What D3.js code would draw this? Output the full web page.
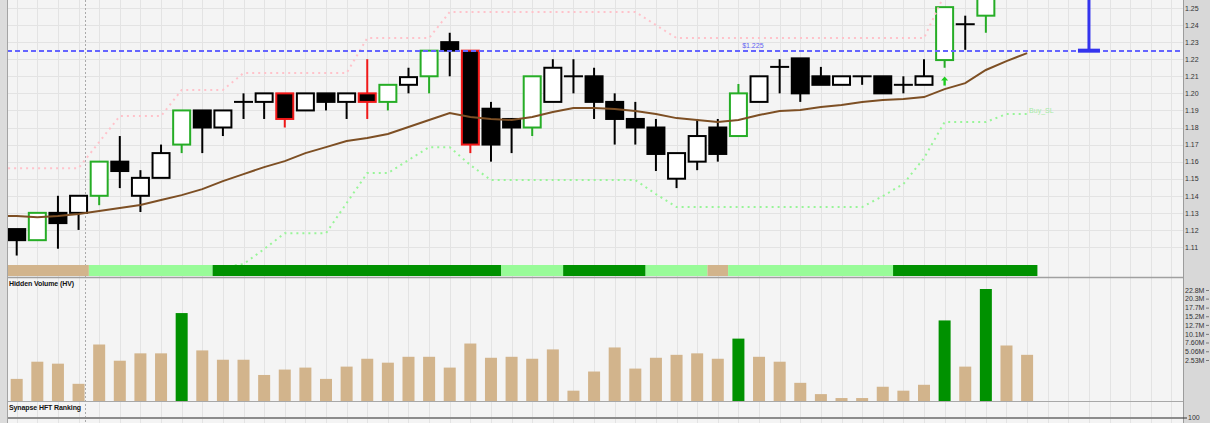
<!DOCTYPE html>
<meta charset="utf-8">
<script src="https://d3js.org/d3.v7.min.js"></script>
<style>
  body { margin: 0; background: #f4f4f4; overflow: hidden; }
  text { font-family: "Liberation Sans", Arial, sans-serif; }
</style>
<div id="chart"></div>
<script>
// ---- data (one entry per bar, bar 0 = left-most candle) ----
var opens  = [1.1205,1.114,1.130,1.130,1.140,1.160,1.140,1.1505,1.170,1.190,
              1.180,1.195,1.195,1.200,1.190,1.200,1.195,1.200,1.195,1.205,
              1.210,1.230,1.225,1.191,1.185,1.180,1.195,1.210,1.210,1.195,
              1.185,1.180,1.150,1.160,1.180,1.175,1.195,1.2155,1.2205,1.210,
              1.205,1.210,1.210,1.205,1.205,1.2195,1.2405,1.2455,1.262,1.268];
var highs  = [1.1205,1.130,1.140,1.140,1.160,1.175,1.155,1.170,1.190,1.190,
              1.190,1.200,1.200,1.200,1.200,1.200,1.200,1.220,1.205,1.215,
              1.225,1.2355,1.225,1.195,1.185,1.210,1.220,1.220,1.215,1.200,
              1.195,1.185,1.165,1.185,1.185,1.2055,1.210,1.220,1.2205,1.2155,
              1.210,1.210,1.210,1.210,1.220,1.2505,1.2455,1.262,1.275,1.280];
var lows   = [1.105,1.114,1.109,1.120,1.1345,1.1445,1.1305,1.1505,1.165,1.165,
              1.175,1.185,1.185,1.180,1.190,1.190,1.185,1.185,1.190,1.200,
              1.200,1.210,1.165,1.160,1.165,1.175,1.195,1.200,1.185,1.170,
              1.170,1.1545,1.1445,1.155,1.160,1.175,1.195,1.200,1.195,1.205,
              1.205,1.205,1.200,1.200,1.205,1.215,1.2255,1.2355,1.258,1.262];
var closes = [1.114,1.130,1.124,1.140,1.160,1.1545,1.1505,1.165,1.190,1.180,
              1.190,1.195,1.200,1.185,1.200,1.195,1.200,1.195,1.205,1.2095,
              1.225,1.225,1.170,1.170,1.180,1.210,1.215,1.210,1.195,1.185,
              1.180,1.1645,1.165,1.175,1.1645,1.200,1.210,1.2155,1.200,1.205,
              1.210,1.210,1.200,1.205,1.210,1.2505,1.2405,1.260,1.270,1.275];
// candle outline highlight: "g" green, "r" red, "" plain
var candleMark = ["","g","","","g","","","","g","",
                  "","","","r","","","","r","g","",
                  "g","","r","","","g","","","","",
                  "","","","","","g","","","","",
                  "","","","","","g","","g","",""];

// line studies start one bar before bar 0 (index -1)
var maLine   = [1.1281,1.1281,1.1275,1.1281,1.1293,1.1311,1.1328,1.1346,1.1375,1.1404,
                1.1439,1.1486,1.1527,1.1568,1.1603,1.1650,1.1685,1.1721,1.1738,1.1762,
                1.1803,1.1844,1.1885,1.1861,1.1850,1.1844,1.1861,1.1891,1.1914,1.1914,
                1.1908,1.1896,1.1879,1.1855,1.1844,1.1832,1.1844,1.1873,1.1896,1.1902,
                1.1920,1.1932,1.1949,1.1961,1.1967,1.1978,1.2025,1.2060,1.2137,1.2189,1.2236];
var sellStop = [1.1562,1.1562,1.1562,1.1562,1.1562,1.1715,1.1867,1.1867,1.1867,1.2020,
                1.2020,1.2020,1.2119,1.2119,1.2119,1.2119,1.2119,1.2119,1.2324,1.2324,
                1.2324,1.2324,1.2477,1.2477,1.2477,1.2477,1.2477,1.2477,1.2477,1.2477,
                1.2477,1.2477,1.2400,1.2324,1.2324,1.2324,1.2324,1.2324,1.2324,1.2324,
                1.2324,1.2324,1.2324,1.2324,1.2324,1.2324,1.2580,1.2580,1.2580,1.2580,1.2580];
// buy stop starts at bar 10
var buyStopStart = 10;
var buyStop  = [1.0982,1.1000,1.1088,1.1181,1.1181,1.1181,1.1357,1.1533,1.1533,1.1609,
                1.1685,1.1685,1.1580,1.1492,1.1492,1.1492,1.1492,1.1492,1.1492,1.1492,
                1.1492,1.1410,1.1334,1.1334,1.1334,1.1334,1.1334,1.1334,1.1334,1.1334,
                1.1334,1.1334,1.1398,1.1469,1.1621,1.1832,1.1832,1.1832,1.1879,1.1879];

// volume, millions
var volumes = [4.5,8.0,7.6,3.5,11.5,8.2,9.7,9.7,17.9,10.3,
               8.4,8.4,5.3,6.4,6.8,4.5,7.0,8.6,7.8,9.0,
               9.0,6.8,11.7,8.8,9.0,8.6,10.5,2.1,6.0,10.9,
               6.6,8.8,9.4,9.7,8.6,12.7,9.0,8.0,3.7,1.4,
               0.6,0.6,2.9,2.1,3.3,16.4,7.0,22.8,11.3,9.4];
var volumeHot = [8,35,45,47];
// state strip: 0 tan, 1 light green, 2 dark green
var stripState = [0,0,0,0,1,1,1,1,1,1,
                  2,2,2,2,2,2,2,2,2,2,
                  2,2,2,2,1,1,1,2,2,2,
                  2,1,1,1,0,1,1,1,1,1,
                  1,1,1,2,2,2,2,2,2,2];

var priceTicks = [1.11,1.12,1.13,1.14,1.15,1.16,1.17,1.18,1.19,1.20,1.21,1.22,1.23,1.24,1.25];
var volTicks = [2.53,5.06,7.60,10.1,12.7,15.2,17.7,20.3,22.8];
var alertPrice = 1.225, alertBar = 52, alertLabelBar = 35.7;
var arrowBar = 45, arrowPrice = 1.2072;
var sessionBreak = 3.33;

// ---- layout ----
var W = 1210, H = 423;
var plotL = 7, plotR = 1183;
var stripTop = 265, stripBot = 276;

var svg = d3.select("#chart").append("svg")
  .attr("width", W).attr("height", H)
  .style("display", "block");

var x = d3.scaleLinear().domain([0, 49]).range([16.7, 1027.1]);
var y = d3.scaleLinear().domain([1.11, 1.25]).range([247, 8]);
var vy = d3.scaleLinear().domain([0, 22.8]).range([401, 289]);
// the volume labels sit on their own compressed scale
var vLab = d3.scaleLinear().domain([0, 22.8]).range([368.75, 290]);

svg.append("rect").attr("width", W).attr("height", H).attr("fill", "#f4f4f4");

svg.append("clipPath").attr("id", "priceClip")
  .append("rect").attr("x", plotL).attr("y", 0).attr("width", plotR - plotL).attr("height", stripTop);

// vertical grid, every bar
var gridBars = d3.range(0, 57).filter(function(i){ return x(i) < plotR; });
svg.append("g").selectAll("line").data(gridBars).enter().append("line")
  .attr("x1", function(d){ return Math.round(x(d)) + 0.5; })
  .attr("x2", function(d){ return Math.round(x(d)) + 0.5; })
  .attr("y1", 0).attr("y2", H)
  .attr("stroke", "#e3e3e3");

// horizontal price grid
svg.append("g").selectAll("line").data(priceTicks).enter().append("line")
  .attr("x1", plotL).attr("x2", plotR)
  .attr("y1", function(d){ return Math.round(y(d)) + 0.5; })
  .attr("y2", function(d){ return Math.round(y(d)) + 0.5; })
  .attr("stroke", "#e3e3e3");

// session break
svg.append("line")
  .attr("x1", Math.round(x(sessionBreak)) + 0.5).attr("x2", Math.round(x(sessionBreak)) + 0.5)
  .attr("y1", 0).attr("y2", H)
  .attr("stroke", "#aaa").attr("stroke-dasharray", "2,2");

// state strip (merge runs)
var stripColors = ["#d2b48c", "#98fb98", "#009100"];
var runs = [];
stripState.forEach(function(s, i){
  if (runs.length && runs[runs.length-1].s === s) runs[runs.length-1].e = i;
  else runs.push({s: s, b: i, e: i});
});
svg.append("g").selectAll("rect").data(runs).enter().append("rect")
  .attr("x", function(d){ return x(d.b - 0.5); })
  .attr("width", function(d){ return x(d.e + 0.5) - x(d.b - 0.5); })
  .attr("y", stripTop).attr("height", stripBot - stripTop)
  .attr("fill", function(d){ return stripColors[d.s]; });

var price = svg.append("g").attr("clip-path", "url(#priceClip)");

// candles
var bars = d3.range(opens.length).map(function(i){
  return {i: i, o: opens[i], h: highs[i], l: lows[i], c: closes[i], m: candleMark[i]};
});
function edge(d){ return d.m === "g" ? "#26ad26" : d.m === "r" ? "#f01818" : "#000"; }

var candle = price.append("g").selectAll("g").data(bars).enter().append("g");
candle.append("line")
  .attr("x1", function(d){ return x(d.i); }).attr("x2", function(d){ return x(d.i); })
  .attr("y1", function(d){ return y(d.h); }).attr("y2", function(d){ return y(d.l); })
  .attr("stroke", edge).attr("stroke-width", 2);
candle.filter(function(d){ return d.o !== d.c; }).append("rect")
  .attr("x", function(d){ return x(d.i) - 8.5; })
  .attr("width", 17)
  .attr("y", function(d){ return y(Math.max(d.o, d.c)); })
  .attr("height", function(d){ return Math.abs(y(d.o) - y(d.c)); })
  .attr("fill", function(d){ return d.c > d.o ? "#fff" : "#000"; })
  .attr("stroke", edge).attr("stroke-width", 2);
candle.filter(function(d){ return d.o === d.c; }).append("line")
  .attr("x1", function(d){ return x(d.i) - 9.5; }).attr("x2", function(d){ return x(d.i) + 9.5; })
  .attr("y1", function(d){ return y(d.o); }).attr("y2", function(d){ return y(d.o); })
  .attr("stroke", "#000").attr("stroke-width", 2);

// line studies
var lineFrom = function(arr, start){
  return d3.line()
    .x(function(d, k){ return x(start + k); })
    .y(function(d){ return y(d); })(arr);
};
price.append("path").attr("d", lineFrom(sellStop, -1))
  .attr("fill", "none").attr("stroke", "#ffc2ca").attr("stroke-width", 2)
  .attr("stroke-dasharray", "2,4");
price.append("path").attr("d", lineFrom(buyStop, buyStopStart))
  .attr("fill", "none").attr("stroke", "#98f598").attr("stroke-width", 2)
  .attr("stroke-dasharray", "2,4");
price.append("path").attr("d", lineFrom(maLine, -1))
  .attr("fill", "none").attr("stroke", "#7d4f24").attr("stroke-width", 2);

price.append("text")
  .attr("x", x(buyStop.length - 1 + buyStopStart) + 2)
  .attr("y", y(buyStop[buyStop.length - 1]) - 1)
  .attr("font-size", 7).attr("fill", "#a6eaa6").text("Buy_SL");

// alert level
price.append("line")
  .attr("x1", plotL).attr("x2", plotR)
  .attr("y1", Math.round(y(alertPrice))).attr("y2", Math.round(y(alertPrice)))
  .attr("stroke", "#6464ff").attr("stroke-width", 2).attr("stroke-dasharray", "5,3");
price.append("text")
  .attr("x", x(alertLabelBar)).attr("y", y(alertPrice) - 3)
  .attr("text-anchor", "middle").attr("font-size", 7).attr("fill", "#6262f0")
  .text("$" + alertPrice);
price.append("line")
  .attr("x1", x(alertBar)).attr("x2", x(alertBar))
  .attr("y1", 0).attr("y2", y(alertPrice))
  .attr("stroke", "#3434ee").attr("stroke-width", 3);
price.append("rect")
  .attr("x", x(alertBar) - 11).attr("width", 22)
  .attr("y", y(alertPrice) - 2).attr("height", 4)
  .attr("fill", "#3434ee");

// buy arrow
var ax = x(arrowBar), ay = y(arrowPrice);
price.append("path")
  .attr("d", "M" + (ax - 3.5) + "," + (ay - 0.5) + "L" + ax + "," + (ay - 4.5) + "L" + (ax + 3.5) + "," + (ay - 0.5) + "Z")
  .attr("fill", "#1fcc1f");
price.append("rect").attr("x", ax - 1.2).attr("y", ay - 1).attr("width", 2.4).attr("height", 5.5)
  .attr("fill", "#1fcc1f");

// volume bars
svg.append("g").selectAll("rect").data(volumes).enter().append("rect")
  .attr("x", function(d, i){ return x(i) - 6; })
  .attr("width", 12)
  .attr("y", function(d){ return vy(d); })
  .attr("height", function(d){ return vy(0) - vy(d); })
  .attr("fill", function(d, i){ return volumeHot.indexOf(i) >= 0 ? "#009100" : "#d2b48c"; });

// panel separators
svg.append("line").attr("x1", plotL).attr("x2", plotR).attr("y1", 277.5).attr("y2", 277.5)
  .attr("stroke", "#a0a0a0").attr("stroke-width", 1.5);
svg.append("line").attr("x1", plotL).attr("x2", plotR).attr("y1", 401.5).attr("y2", 401.5)
  .attr("stroke", "#a8a8a8");
svg.append("line").attr("x1", plotL).attr("x2", plotR).attr("y1", 418).attr("y2", 418)
  .attr("stroke", "#8c8c8c").attr("stroke-width", 2);

svg.append("text").attr("x", 9).attr("y", 286).attr("font-size", 7).attr("fill", "#111")
  .attr("font-weight", "bold").attr("letter-spacing", "-0.1")
  .text("Hidden Volume (HV)");
svg.append("text").attr("x", 9).attr("y", 410).attr("font-size", 7).attr("fill", "#111")
  .attr("font-weight", "bold").attr("letter-spacing", "-0.1")
  .text("Synapse HFT Ranking");

// side frames
svg.append("rect").attr("x", 0).attr("y", 0).attr("width", plotL).attr("height", H).attr("fill", "#dcdcdc");
svg.append("line").attr("x1", plotL + 0.5).attr("x2", plotL + 0.5).attr("y1", 0).attr("y2", H)
  .attr("stroke", "#a4a4a4");
svg.append("rect").attr("x", plotR).attr("y", 0).attr("width", W - plotR).attr("height", H).attr("fill", "#d8d8d8");
svg.append("line").attr("x1", plotR + 0.5).attr("x2", plotR + 0.5).attr("y1", 0).attr("y2", H)
  .attr("stroke", "#9c9c9c");

// right axes
var pAxis = svg.append("g").attr("transform", "translate(" + plotR + ",0)")
  .call(d3.axisRight(y).tickValues(priceTicks).tickSize(0).tickPadding(2).tickFormat(d3.format(".2f")));
var vAxis = svg.append("g").attr("transform", "translate(" + plotR + ",0)")
  .call(d3.axisRight(vLab).tickValues(volTicks).tickSize(0).tickPadding(2)
    .tickFormat(function(d){ return d3.format(".3r")(d) + "M"; }));
[pAxis, vAxis].forEach(function(g){
  g.select(".domain").remove();
  g.selectAll("text").attr("font-size", 7).attr("fill", "#333")
    .style("font-family", "'Liberation Sans', Arial, sans-serif");
});
vAxis.selectAll(".tick").append("line")
  .attr("x1", 23).attr("x2", 26).attr("stroke", "#777");

var rAxis = svg.append("g").attr("transform", "translate(" + plotR + ",418)");
rAxis.append("line").attr("x1", 0).attr("x2", 4).attr("stroke", "#333");
rAxis.append("text").attr("x", 5).attr("dy", "0.32em").attr("font-size", 7).attr("fill", "#333").text("100");
</script>
